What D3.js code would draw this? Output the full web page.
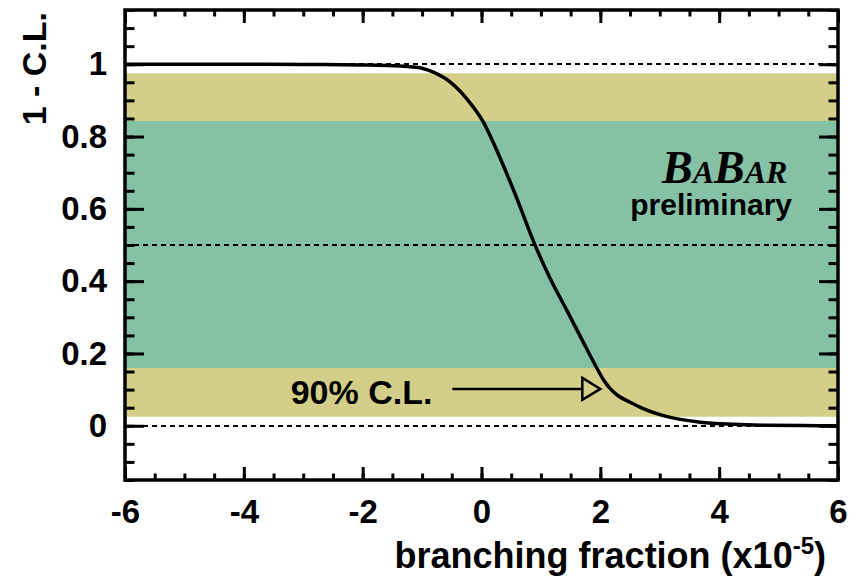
<!DOCTYPE html>
<html>
<head>
<meta charset="utf-8">
<script src="https://cdn.jsdelivr.net/npm/d3@7"></script>
<style>
  body { margin: 0; background: #fff; }
  svg text { font-family: "Liberation Sans", Arial, Helvetica, sans-serif; font-weight: bold; }
</style>
</head>
<body>
<svg id="chart" width="854" height="576"></svg>
<script>
// branching fraction (x10^-5) vs 1 - C.L.
const bfValues = [-6, -5, -4, -3, -2, -1.5, -1.2, -1.0, -0.81, -0.52, -0.24, 0.02, 0.32, 0.6, 0.88, 1.16, 1.45, 1.71, 1.95, 2.05, 2.17, 2.3, 2.5, 2.7, 3.06, 3.68, 4.24, 4.8, 5.4, 6];
const clValues = [1, 1, 1, 0.9995, 0.998, 0.996, 0.993, 0.989, 0.978, 0.95, 0.903, 0.843, 0.738, 0.627, 0.508, 0.406, 0.315, 0.232, 0.157, 0.128, 0.102, 0.083, 0.065, 0.049, 0.028, 0.010, 0.004, 0.0015, 0.0005, 0];

const outerBand = [0.025, 0.975];   // yellow
const innerBand = [0.16, 0.843];    // green
const refLines = [0, 0.5, 1];       // dashed

const xMajor = [-6, -4, -2, 0, 2, 4, 6];
const yMajor = [0, 0.2, 0.4, 0.6, 0.8, 1];
const yLabels = ["0", "0.2", "0.4", "0.6", "0.8", "1"];

const limitArrow = { x0: -0.49, x1: 2.0, y: 0.102 };

const svg = d3.select("#chart");
const margin = { left: 125, top: 10, right: 16, bottom: 96 };
const W = 854 - margin.left - margin.right;
const H = 576 - margin.top - margin.bottom;

const x = d3.scaleLinear().domain([-6, 6]).range([0, W]);
const y = d3.scaleLinear().domain([-0.15, 1.15]).range([H, 0]);

const g = svg.append("g").attr("transform", `translate(${margin.left},${margin.top})`);

// bands
g.append("rect").attr("x", x(-6)).attr("width", x(6) - x(-6))
  .attr("y", y(outerBand[1])).attr("height", y(outerBand[0]) - y(outerBand[1]))
  .attr("fill", "#d3cf88");
g.append("rect").attr("x", x(-6)).attr("width", x(6) - x(-6))
  .attr("y", y(innerBand[1])).attr("height", y(innerBand[0]) - y(innerBand[1]))
  .attr("fill", "#85c2a5");

// dashed reference lines
g.selectAll(".ref").data(refLines).enter().append("line")
  .attr("x1", x(-6)).attr("x2", x(6))
  .attr("y1", d => Math.round(y(d))).attr("y2", d => Math.round(y(d)))
  .attr("stroke", "#000").attr("stroke-width", 2).attr("stroke-dasharray", "5,4");

// axes (ticks inside the frame)
const xMinor = d3.range(-6, 6.01, 0.5);
const yMinor = d3.range(-0.15, 1.151, 0.05).map(v => Math.round(v * 100) / 100);

function styleAxis(sel) {
  sel.select(".domain").remove();
  sel.selectAll(".tick line").attr("stroke", "#000").attr("stroke-width", 3);
  sel.selectAll(".tick text").attr("fill", "#000");
}

g.append("g").attr("transform", `translate(0,${H})`)
  .call(d3.axisBottom(x).tickValues(xMinor).tickSize(-6.5).tickFormat("")).call(styleAxis);
g.append("g").attr("transform", `translate(0,${H})`)
  .call(d3.axisBottom(x).tickValues(xMajor).tickSize(-13).tickPadding(20).tickFormat(d => String(d)))
  .call(styleAxis)
  .selectAll("text").attr("font-size", 33).attr("dy", "0.71em");
g.append("g")
  .call(d3.axisTop(x).tickValues(xMinor).tickSize(-6.5).tickFormat("")).call(styleAxis);
g.append("g")
  .call(d3.axisTop(x).tickValues(xMajor).tickSize(-13).tickFormat("")).call(styleAxis);

g.append("g")
  .call(d3.axisLeft(y).tickValues(yMinor).tickSize(-9.5).tickFormat("")).call(styleAxis);
g.append("g")
  .call(d3.axisLeft(y).tickValues(yMajor).tickSize(-19).tickPadding(18).tickFormat((d, i) => yLabels[i]))
  .call(styleAxis)
  .selectAll("text").attr("font-size", 33);
g.append("g").attr("transform", `translate(${W},0)`)
  .call(d3.axisRight(y).tickValues(yMinor).tickSize(-9.5).tickFormat("")).call(styleAxis);
g.append("g").attr("transform", `translate(${W},0)`)
  .call(d3.axisRight(y).tickValues(yMajor).tickSize(-19).tickFormat("")).call(styleAxis);

// curve
const pts = bfValues.map((v, i) => [v, clValues[i]]);
g.append("path").datum(pts)
  .attr("fill", "none").attr("stroke", "#000").attr("stroke-width", 3.5)
  .attr("d", d3.line().x(d => x(d[0])).y(d => y(d[1])).curve(d3.curveMonotoneX));

// frame
g.append("rect").attr("width", W).attr("height", H)
  .attr("fill", "none").attr("stroke", "#000").attr("stroke-width", 3.5);

// 90% C.L. arrow
const ay = y(limitArrow.y);
const tip = x(limitArrow.x1);
g.append("line").attr("x1", x(limitArrow.x0)).attr("x2", tip - 18)
  .attr("y1", ay).attr("y2", ay).attr("stroke", "#000").attr("stroke-width", 2.5);
g.append("path")
  .attr("d", `M${tip - 18},${ay - 11} L${tip},${ay} L${tip - 18},${ay + 11} Z`)
  .attr("fill", "none").attr("stroke", "#000").attr("stroke-width", 2.5);
g.append("text").attr("x", x(limitArrow.x0) - 20).attr("y", ay + 15)
  .attr("text-anchor", "end").attr("font-size", 34).text("90% C.L.");

// BaBar label
const babar = g.append("text").attr("x", 537).attr("y", 173)
  .style("font-family", "'Liberation Serif', 'Times New Roman', serif")
  .style("font-style", "italic").style("font-weight", "bold");
[["B", 46], ["A", 32], ["B", 46], ["AR", 32]].forEach(([t, s]) => babar.append("tspan").attr("font-size", s).text(t));
g.append("text").attr("x", 667).attr("y", 205).attr("text-anchor", "end")
  .attr("font-size", 30).text("preliminary");

// axis titles
const xt = svg.append("text").attr("x", 826).attr("y", 568).attr("text-anchor", "end").attr("font-size", 36);
xt.append("tspan").text("branching fraction (x10");
xt.append("tspan").attr("font-size", 24).attr("dy", -14).text("-5");
xt.append("tspan").attr("dy", 14).text(")");

svg.append("text").attr("transform", "translate(46,12) rotate(-90)")
  .attr("text-anchor", "end").attr("font-size", 34).text("1 - C.L.");
</script>
</body>
</html>
